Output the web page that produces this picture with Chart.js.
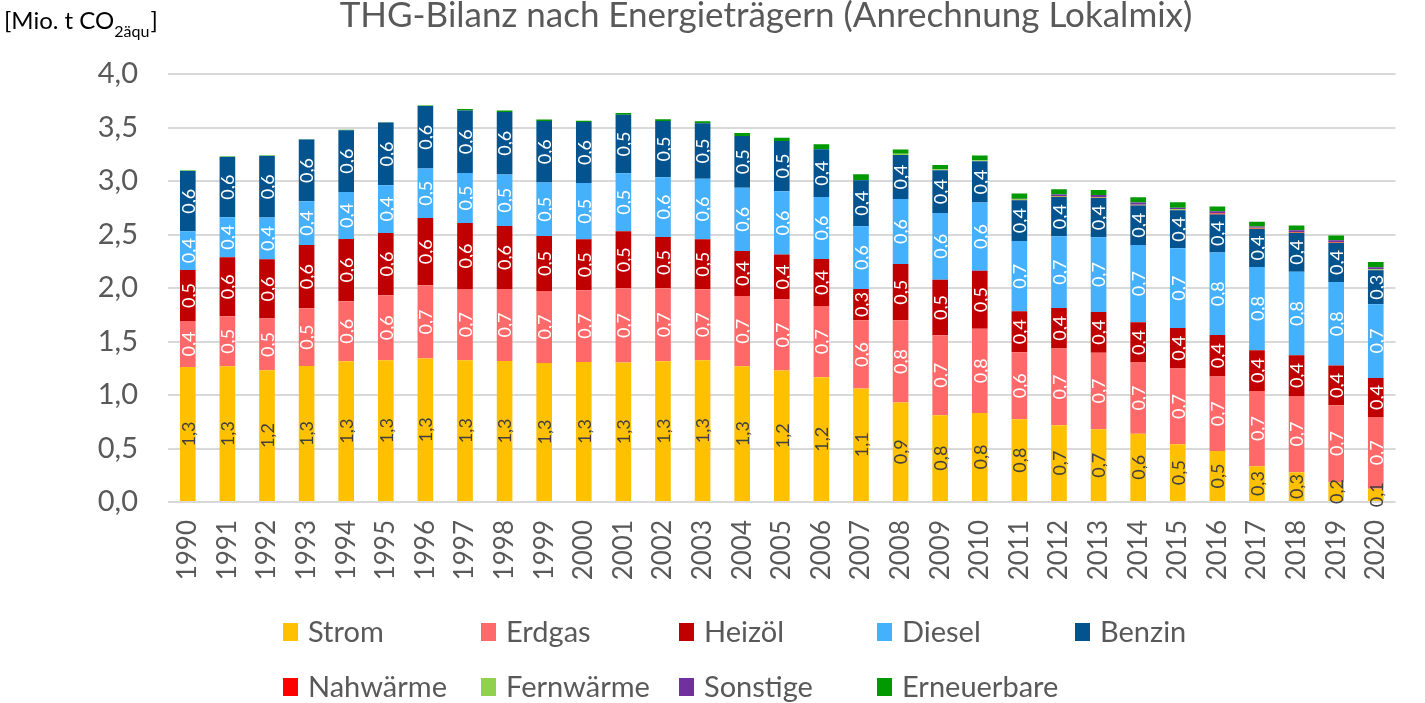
<!DOCTYPE html>
<html>
<head>
<meta charset="utf-8">
<script src="https://cdn.jsdelivr.net/npm/chart.js@4.4.1/dist/chart.umd.min.js"></script>
<style>
  html, body { margin: 0; padding: 0; background: #fff; }
  #wrap { width: 1425px; height: 703px; position: relative; }
</style>
</head>
<body>
<div id="wrap"><canvas id="c" width="1425" height="703"></canvas></div>
<script>
const years = ['1990','1991','1992','1993','1994','1995','1996','1997','1998','1999','2000','2001','2002','2003','2004','2005','2006','2007','2008','2009','2010','2011','2012','2013','2014','2015','2016','2017','2018','2019','2020'];

const strom = [1.262,1.268,1.231,1.271,1.315,1.324,1.340,1.324,1.318,1.299,1.308,1.303,1.315,1.324,1.268,1.228,1.165,1.060,0.929,0.810,0.832,0.773,0.717,0.679,0.639,0.539,0.477,0.334,0.278,0.187,0.125];
const erdgas = [0.430,0.467,0.483,0.539,0.561,0.608,0.685,0.667,0.673,0.673,0.671,0.694,0.682,0.664,0.657,0.666,0.667,0.638,0.769,0.748,0.788,0.626,0.717,0.717,0.664,0.708,0.695,0.704,0.713,0.717,0.669];
const heizoel = [0.476,0.552,0.554,0.592,0.582,0.582,0.629,0.616,0.588,0.514,0.476,0.533,0.480,0.467,0.421,0.418,0.439,0.293,0.526,0.520,0.542,0.383,0.379,0.380,0.376,0.379,0.389,0.380,0.380,0.371,0.365];
const diesel = [0.362,0.374,0.390,0.408,0.439,0.446,0.462,0.467,0.481,0.499,0.526,0.542,0.558,0.567,0.592,0.592,0.579,0.586,0.608,0.623,0.636,0.657,0.670,0.698,0.723,0.745,0.770,0.779,0.782,0.781,0.689];
const benzin = [0.563,0.563,0.576,0.577,0.577,0.586,0.585,0.586,0.585,0.576,0.570,0.548,0.526,0.517,0.483,0.470,0.446,0.430,0.411,0.399,0.386,0.381,0.367,0.367,0.368,0.355,0.355,0.355,0.361,0.365,0.317];
const nahwaerme = [0,0,0,0,0,0,0,0,0,0,0,0,0,0,0,0,0,0,0,0,0,0.003,0.003,0.003,0.003,0.004,0.010,0.004,0.004,0.004,0.004];
const fernwaerme = [0,0,0,0,0,0,0,0,0,0,0,0,0,0,0,0,0,0,0.012,0.010,0.010,0.008,0.006,0.006,0.006,0.006,0.006,0.006,0.006,0.006,0.006];
const sonstige = [0,0,0,0,0,0,0,0,0,0,0,0,0,0,0,0,0,0,0,0,0,0.003,0.015,0.020,0.020,0.015,0.015,0.012,0.015,0.015,0.018];
const erneuerbare = [0.004,0.004,0.004,0.004,0.004,0.004,0.004,0.014,0.013,0.013,0.013,0.016,0.016,0.019,0.028,0.031,0.048,0.056,0.040,0.040,0.045,0.050,0.050,0.045,0.050,0.050,0.045,0.045,0.045,0.045,0.050];

const yTicks = [0, 0.5, 1, 1.5, 2, 2.5, 3, 3.5, 4];

const FONT = 'Lato, "Open Sans", sans-serif';
const GREY = '#595959';

const series = [
  { label: 'Strom', data: strom, color: '#FFC000', text: '#404040' },
  { label: 'Erdgas', data: erdgas, color: '#FF6969', text: '#ffffff' },
  { label: 'Heizöl', data: heizoel, color: '#C00000', text: '#ffffff' },
  { label: 'Diesel', data: diesel, color: '#45B0FC', text: '#ffffff' },
  { label: 'Benzin', data: benzin, color: '#03538E', text: '#ffffff' },
  { label: 'Nahwärme', data: nahwaerme, color: '#FF0000', text: null },
  { label: 'Fernwärme', data: fernwaerme, color: '#92D050', text: null },
  { label: 'Sonstige', data: sonstige, color: '#7030A0', text: null },
  { label: 'Erneuerbare', data: erneuerbare, color: '#009900', text: null }
];

const fmt = v => v.toFixed(1).replace('.', ',');

// Werte in den Balken (gedreht), Titel, Einheit und Legende
const extras = {
  id: 'extras',
  afterDatasetsDraw(chart) {
    const ctx = chart.ctx;
    ctx.save();
    ctx.font = '18px ' + FONT;
    ctx.textAlign = 'center';
    ctx.textBaseline = 'middle';
    chart.data.datasets.forEach((ds, i) => {
      const s = series[i];
      if (!s.text) return;
      chart.getDatasetMeta(i).data.forEach((bar, j) => {
        const cy = (bar.y + bar.base) / 2;
        ctx.save();
        ctx.translate(bar.x + 1, cy);
        ctx.rotate(-Math.PI / 2);
        ctx.fillStyle = s.text;
        ctx.fillText(fmt(ds.data[j]), 0, 0);
        ctx.restore();
      });
    });
    ctx.restore();
  },
  afterDraw(chart) {
    const ctx = chart.ctx;
    ctx.save();
    ctx.fillStyle = GREY;
    ctx.textBaseline = 'alphabetic';
    ctx.textAlign = 'center';
    ctx.font = '35px ' + FONT;
    ctx.fillText('THG-Bilanz nach Energieträgern (Anrechnung Lokalmix)', 766, 27);

    ctx.fillStyle = '#000000';
    ctx.textAlign = 'left';
    ctx.font = '24px ' + FONT;
    let x = 4;
    ctx.fillText('[Mio. t CO', x, 29);
    x += ctx.measureText('[Mio. t CO').width;
    ctx.font = '16px ' + FONT;
    ctx.fillText('2äqu', x, 37);
    x += ctx.measureText('2äqu').width;
    ctx.font = '24px ' + FONT;
    ctx.fillText(']', x + 1, 29);

    // Legende: 5 Spalten, 2 Zeilen
    ctx.font = '29px ' + FONT;
    ctx.textBaseline = 'middle';
    series.forEach((s, i) => {
      const col = i < 5 ? i : i - 5;
      const row = i < 5 ? 0 : 1;
      const lx = 283 + col * 198;
      const ly = row === 0 ? 632 : 687;
      ctx.fillStyle = s.color;
      ctx.fillRect(lx, ly - 9, 15, 18);
      ctx.fillStyle = GREY;
      ctx.fillText(s.label, lx + 25, ly + 1);
    });
    ctx.restore();
  }
};

new Chart(document.getElementById('c'), {
  type: 'bar',
  data: {
    labels: years,
    datasets: series.map(s => ({
      label: s.label,
      data: s.data,
      backgroundColor: s.color,
      borderWidth: 0,
      barPercentage: 0.79,
      categoryPercentage: 0.5
    }))
  },
  options: {
    responsive: false,
    animation: false,
    layout: { padding: { top: 74, right: 2, left: 0, bottom: 0 } },
    plugins: {
      legend: { display: false },
      title: { display: false },
      tooltip: { enabled: false }
    },
    scales: {
      x: {
        stacked: true,
        grid: { display: false, drawTicks: false },
        border: { display: false },
        ticks: {
          color: GREY,
          font: { family: FONT, size: 26 },
          minRotation: 90,
          maxRotation: 90,
          padding: 18,
          autoSkip: false
        },
        afterFit(scale) { scale.height = 201; }
      },
      y: {
        stacked: true,
        min: 0,
        max: 4,
        afterBuildTicks(scale) { scale.ticks = yTicks.map(v => ({ value: v })); },
        grid: { color: '#D9D9D9', lineWidth: 2, drawTicks: false },
        border: { display: false },
        ticks: {
          color: GREY,
          font: { family: FONT, size: 29 },
          padding: 30,
          callback: v => fmt(v)
        },
        afterFit(scale) { scale.width = 168; }
      }
    }
  },
  plugins: [extras]
});
</script>
</body>
</html>
